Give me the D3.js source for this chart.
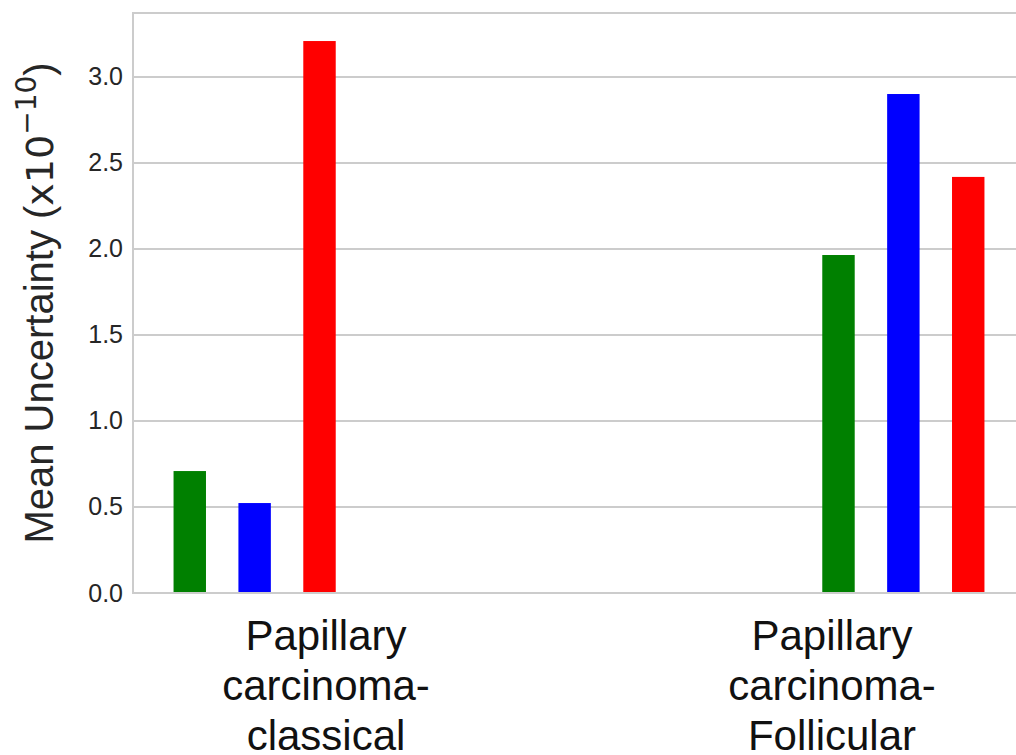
<!DOCTYPE html>
<html>
<head>
<meta charset="utf-8">
<script src="https://cdn.jsdelivr.net/npm/d3@7"></script>
<style>
  body { margin: 0; background: #fff; }
  svg { display: block; }
</style>
</head>
<body>
<div id="chart"></div>
<script>
// Data
const categories = [
    ["Papillary", "carcinoma-", "classical"],
    ["Papillary", "carcinoma-", "Follicular"]
];
const categoryTicks = [0.11, 0.89];          // where the group labels sit (x units)
const seriesNames = ["green", "blue", "red"];
const seriesColors = ["#008000", "#0000ff", "#ff0000"];
const greenValues = [0.709, 1.965];
const blueValues = [0.523, 2.901];
const redValues = [3.209, 2.419];
const yTicks = [0.0, 0.5, 1.0, 1.5, 2.0, 2.5, 3.0];

const width = 1016;
const height = 755;
const plot = { left: 133, top: 13, bottom: 593, right: 1025 };

const svg = d3.select("#chart")
    .append("svg")
        .attr("width", width)
        .attr("height", height);

// Scales
const barOffset = 0.1;
const barWidth = 0.05;
const x = d3.scaleLinear()
    .domain([-0.1875, 1.1875])
    .range([plot.left, plot.right]);
const y = d3.scaleLinear()
    .domain([0, 3.372])
    .range([plot.bottom, plot.top]);

// Grid
const yAxis = d3.axisLeft(y)
    .tickValues(yTicks)
    .tickFormat(d3.format(".1f"))
    .tickSize(0)
    .tickPadding(10);

svg.append("g")
    .attr("class", "grid")
    .selectAll("line")
    .data(yTicks)
    .enter()
    .append("line")
        .attr("x1", plot.left)
        .attr("x2", width)
        .attr("y1", d => y(d))
        .attr("y2", d => y(d))
        .attr("stroke", "#cccccc")
        .attr("stroke-width", 2);

// Bars
const series = [greenValues, blueValues, redValues];
const bars = [];
series.forEach((vals, s) => {
    vals.forEach((v, g) => bars.push({ s: s, g: g, v: v }));
});

svg.append("g")
    .selectAll("rect")
    .data(bars)
    .enter()
    .append("rect")
        .attr("x", d => x(d.g + (d.s - 1) * barOffset - barWidth / 2))
        .attr("width", d => x(barWidth) - x(0))
        .attr("y", d => y(d.v))
        .attr("height", d => y(0) - y(d.v))
        .attr("fill", d => seriesColors[d.s]);

// Spines (right one falls outside the picture)
svg.append("path")
    .attr("d", `M${width},${plot.top}H${plot.left}V${plot.bottom}H${width}`)
    .attr("fill", "none")
    .attr("stroke", "#cccccc")
    .attr("stroke-width", 2);

// Y axis labels
const gy = svg.append("g")
    .attr("transform", `translate(${plot.left},0)`)
    .call(yAxis);
gy.select(".domain").remove();
gy.selectAll("text")
    .attr("font-family", "Liberation Sans, Arial, sans-serif")
    .attr("font-size", 25)
    .attr("fill", "#262626");

// X category labels
const xl = svg.append("g")
    .selectAll("text")
    .data(categories)
    .enter()
    .append("text")
        .attr("text-anchor", "middle")
        .attr("font-family", "Liberation Sans, Arial, sans-serif")
        .attr("font-size", 42)
        .attr("fill", "#111");
xl.selectAll("tspan")
    .data((d, i) => d.map(line => ({ line: line, i: i })))
    .enter()
    .append("tspan")
        .attr("x", d => x(categoryTicks[d.i]))
        .attr("y", (d, k) => 650 + k * 50)
        .text(d => d.line);

// Y axis title
const title = svg.append("text")
    .attr("transform", `translate(53,${(plot.top + plot.bottom) / 2}) rotate(-90)`)
    .attr("text-anchor", "middle")
    .attr("font-family", "Liberation Sans, Arial, sans-serif")
    .attr("font-size", 40)
    .attr("fill", "#262626");
title.append("tspan").text("Mean Uncertainty (");
title.append("tspan").attr("font-family", "DejaVu Sans").attr("font-size", 38).text("x10");
title.append("tspan").attr("font-family", "DejaVu Sans").attr("font-size", 28).attr("dy", -17).text("\u221210");
title.append("tspan").attr("dy", 17).text(")");
</script>
</body>
</html>
